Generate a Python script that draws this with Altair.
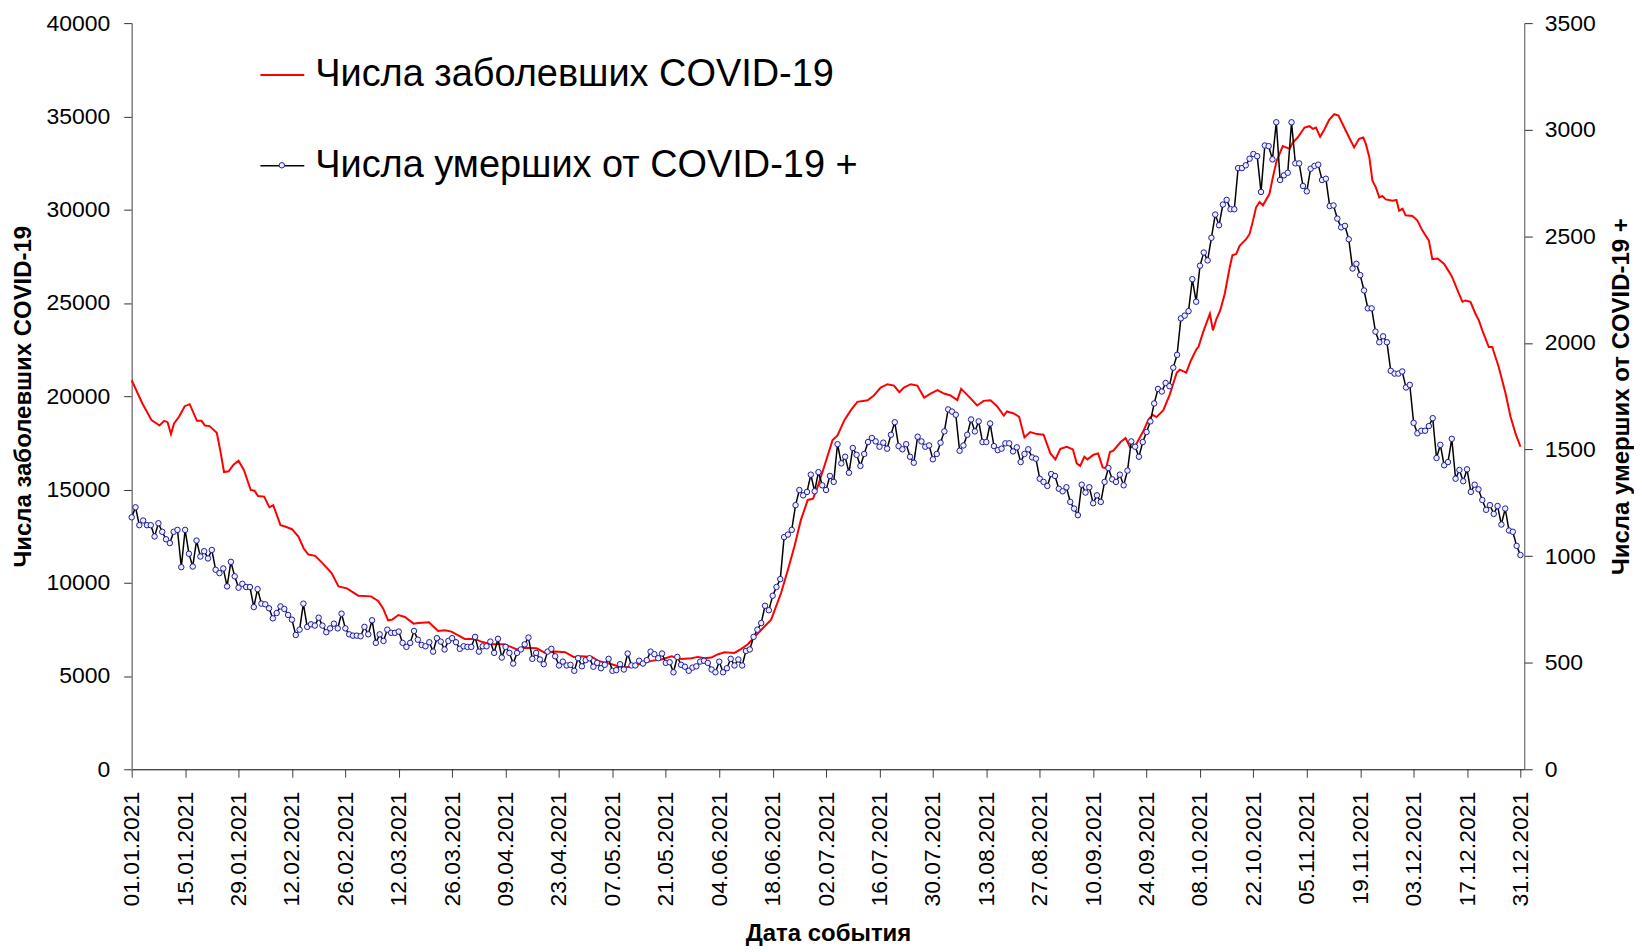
import altair as alt
import pandas as pd

CASES_LABEL = "Числа заболевших COVID-19"
DEATHS_LABEL = "Числа умерших от COVID-19 +"
MARKER_KEY = "marker"
X_TITLE = "Дата события"
Y_LEFT_TITLE = "Числа заболевших COVID-19"
Y_RIGHT_TITLE = "Числа умерших от  COVID-19 +"

START = "2021-01-01"

# daily deaths, 01.01.2021 .. 31.12.2021 (right axis)
deaths = [
    1182, 1229, 1145, 1167, 1145, 1145, 1092, 1154, 1114, 1079,
    1061, 1114, 1123, 948, 1123, 1011, 951, 1073, 998, 1023,
    989, 1029, 936, 920, 942, 858, 973, 905, 852, 870,
    855, 855, 761, 845, 777, 774, 755, 708, 733, 764,
    752, 724, 702, 630, 655, 777, 668, 680, 674, 711,
    674, 643, 661, 683, 661, 730, 661, 633, 627, 627,
    624, 668, 633, 699, 593, 633, 602, 655, 640, 640,
    646, 593, 574, 593, 649, 608, 583, 577, 596, 552,
    615, 599, 562, 602, 615, 596, 565, 577, 574, 574,
    621, 552, 577, 577, 599, 546, 612, 524, 574, 546,
    496, 546, 562, 586, 618, 518, 546,
    515, 493, 552, 565, 530, 487, 505, 487, 490, 462,
    521, 483, 512, 521, 481, 499, 474, 490, 518, 462,
    465, 493, 468, 543, 487, 487, 509, 496, 512, 552,
    540, 521, 543, 499, 502, 455, 527, 490, 481, 462,
    477, 483, 505, 509, 499, 468, 455, 505, 455, 474,
    518, 487, 515, 487, 555, 562, 621, 655, 686, 767,
    746, 814, 855, 892, 1089, 1101, 1123, 1239, 1310, 1285,
    1301, 1382, 1304, 1394, 1332, 1310, 1376, 1348, 1525, 1435,
    1466, 1391, 1507, 1475, 1423, 1479, 1535, 1554, 1538, 1513,
    1532, 1504, 1569, 1628, 1516, 1501, 1525, 1466, 1438, 1560,
    1538, 1513, 1519, 1454, 1479, 1532, 1585, 1688, 1678, 1663,
    1494, 1519, 1569, 1641, 1585, 1632, 1535, 1535, 1622, 1516,
    1497, 1504, 1529, 1529, 1491, 1510, 1441, 1479, 1501, 1463,
    1457, 1363, 1348, 1329, 1385, 1376, 1316, 1304, 1323, 1254,
    1223, 1192, 1335, 1298, 1323, 1248, 1285, 1254, 1348, 1413,
    1360, 1348, 1382, 1332, 1401, 1538, 1513, 1466, 1535, 1582,
    1632, 1716, 1784, 1772, 1812, 1797, 1884, 1944, 2115, 2128,
    2149, 2299, 2193,
    2362, 2424, 2387, 2493, 2602, 2552, 2649, 2671, 2627, 2627,
    2820, 2820, 2833, 2864, 2886, 2876, 2708, 2926, 2923, 2861,
    3035, 2764, 2786, 2798, 3035, 2842, 2842, 2736, 2711, 2817,
    2830, 2836, 2764, 2770, 2642, 2645, 2583, 2542, 2549, 2486,
    2349, 2371, 2318, 2246, 2162, 2162, 2053, 2003, 2031, 2003,
    1869, 1856, 1856, 1866, 1791, 1803, 1625, 1576, 1588, 1588,
    1610, 1647, 1460, 1522, 1426, 1441, 1550, 1363, 1404, 1351,
    1407, 1301, 1335, 1313, 1263, 1217, 1239, 1198, 1235, 1148,
    1223, 1120, 1114, 1048, 1005,
]

# cases (left axis): day offset from 01.01.2021 and value
case_day = [
    0, 2.8, 5.2, 7.3, 8.5, 9.4, 10.3, 11.1, 12.4, 13.9,
    15.2, 17.1, 18.3, 19.2, 20.4, 22.3, 23.2, 24.2, 25.4, 26.7,
    28.0, 29.4, 31.2, 32.2, 33.1, 34.7, 36.1, 37.1, 39.0, 40.2,
    42.0, 43.7, 45.1, 46.3, 48.1, 50.0, 52.4, 54.2, 56.4, 59.4,
    62.7, 64.6, 65.9, 67.2, 68.3, 69.9, 71.6, 73.9, 75.1, 77.9,
    80.3, 82.1, 83.8, 87.3, 89.9, 91.6, 94.3, 97.7, 101.0, 103.0,
    106.1, 108.4, 111.0, 113.6, 115.8, 117.9, 120.6, 122.3, 125.8, 127.5,
    129.3, 131.0, 134.5, 136.2, 138.9, 141.5, 144.1, 146.7, 148.4, 150.2,
    151.9, 153.7, 155.4, 158.0, 159.8, 161.5, 163.4, 165.9, 167.6, 170.2,
    172.0, 173.7, 175.4, 177.2, 178.6, 179.8, 181.5, 183.7, 185.0, 186.8,
    188.5, 190.2, 192.9, 194.6, 196.3, 198.1, 199.8, 201.2, 202.4, 204.2,
    205.9, 207.7, 209.4, 211.2, 212.9, 214.6, 216.4, 217.4, 219.0, 221.6,
    223.3, 225.1, 226.8, 228.6, 229.4, 231.2, 232.6, 234.0, 235.5, 237.3,
    239.0, 240.8, 242.1, 243.4, 245.1, 246.7, 247.7, 248.6, 249.7, 250.5,
    252.1, 253.3, 254.5, 255.4, 256.4, 257.3, 259.2, 260.5, 261.7, 263.1,
    265.2, 266.5, 267.6, 268.6, 270.4, 272.1, 273.9, 274.7, 276.4, 277.6,
    279.1, 279.6, 280.8, 282.6, 283.4, 284.3, 285.3, 286.5, 287.8, 288.5,
    289.5, 290.4, 292.1, 293.0, 293.9, 294.7, 295.6, 296.5, 298.2, 299.1,
    300.1, 301.7, 303.5, 304.3, 305.6, 307.4, 308.7, 309.6, 310.4, 311.5,
    312.6, 313.9, 315.2, 316.3, 317.4, 319.1, 320.4, 321.7, 322.8, 323.5,
    324.4, 325.2, 326.1, 327.0, 327.8, 328.7, 330.5, 331.5, 332.2, 333.1,
    333.9, 335.7, 337.0, 338.3, 340.0, 340.9, 342.3, 344.0, 345.3, 346.1,
    347.9, 348.8, 349.6, 350.9, 352.2, 353.1, 354.0, 355.7, 356.6, 358.3,
    360.1, 361.4, 362.7, 364.0,
]
case_value = [
    20856, 19608, 18717, 18431, 18681, 18610, 17968, 18538, 18895, 19465,
    19572, 18681, 18681, 18431, 18396, 18039, 17112, 15936, 15971, 16328,
    16542, 16043, 14973, 14937, 14652, 14617, 14046, 14153, 13084, 13013,
    12870, 12478, 11836, 11515, 11444, 11052, 10517, 9804, 9697, 9305,
    9270, 9020, 8627, 7986, 8021, 8271, 8164, 7807, 7843, 7879,
    7415, 7450, 7379, 6988, 6988, 6845, 6702, 6702, 6420, 6520,
    6488, 6239, 6310, 6275, 6025, 6061, 6025, 5811, 5633, 5526,
    5455, 5526, 5704, 5811, 5882, 6061, 5918, 5954, 6025, 5954,
    5989, 6168, 6275, 6239, 6453, 6702, 7130, 7665, 8021, 9447,
    10695, 11943, 13369, 14439, 14510, 15152, 16221, 17647, 17897, 18717,
    19251, 19697, 19786, 20053, 20463, 20642, 20570, 20214, 20463, 20642,
    20570, 19929, 20143, 20321, 20143, 20036, 19786, 20392, 20071, 19501,
    19750, 19786, 19465, 18966, 19180, 19073, 18895, 17790, 18075, 17968,
    17932, 16934, 16613, 17183, 17290, 17148, 16399, 16257, 16756, 16613,
    16863, 16934, 16185, 16150, 17005, 17077, 17540, 17754, 17255, 17362,
    18146, 18750, 19000, 18880, 19251, 20100, 21260, 21420, 21265, 21900,
    22531, 22638, 23422, 24421, 23529, 24135, 24599, 25490, 26916, 27558,
    27629, 28057, 28414, 28699, 29412, 30125, 30410, 30232, 30838, 31729,
    32620, 33405, 33262, 33583, 33868, 34403, 34474, 34332, 34403, 33904,
    34296, 34831, 35116, 35045, 34581, 33868, 33333, 33797, 33868, 33512,
    32798, 31551, 31194, 30660, 30731, 30552, 30481, 30517, 29947, 30053,
    29697, 29661, 29412, 28877, 28342, 27344, 27380, 27094, 26666, 26381,
    25490, 25062, 25134, 25062, 24421, 24064, 23529, 22638, 22638, 21569,
    20143, 18895, 18004, 17290,
]

left_ticks = [0, 5000, 10000, 15000, 20000, 25000, 30000, 35000, 40000]
right_ticks = [0, 500, 1000, 1500, 2000, 2500, 3000, 3500]

MARKER_FILL = "#eeeeff"
MARKER_STROKE = "#1c1ca0"

base = pd.Timestamp(START)
df_deaths = pd.DataFrame({
    "date": pd.date_range(base, periods=len(deaths), freq="D"),
    "value": deaths,
    "series_line": DEATHS_LABEL,
    "series_pt": MARKER_KEY,
})
df_cases = pd.DataFrame({
    "date": base + pd.to_timedelta(case_day, unit="D"),
    "value": case_value,
    "series": CASES_LABEL,
})

tick_dates = pd.date_range(START, "2021-12-31", freq="14D")
FONT = "Liberation Sans"

x_enc = alt.X(
    "date:T",
    scale=alt.Scale(
        domain=[alt.DateTime(year=2021, month=1, date=1), alt.DateTime(year=2022, month=1, date=1)],
        nice=False,
    ),
    axis=alt.Axis(
        values=[alt.DateTime(year=d.year, month=d.month, date=d.day) for d in tick_dates],
        format="%d.%m.%Y",
        labelAngle=270,
        labelAlign="right",
        labelBaseline="middle",
        labelFontSize=23,
        labelPadding=14,
        labelOverlap=False,
        labelFlush=False,
        tickSize=8,
        tickColor="#404040",
        domainColor="#000000",
        grid=False,
        title=X_TITLE,
        titleFontSize=24,
        titleFontWeight="bold",
        titlePadding=16,
    ),
)

y_left = alt.Y(
    "value:Q",
    scale=alt.Scale(domain=[0, 40000], nice=False, zero=True),
    axis=alt.Axis(
        orient="left",
        values=left_ticks,
        format="d",
        labelFontSize=23,
        labelPadding=14,
        tickSize=8,
        tickColor="#303030",
        domainColor="#808080",
        domainWidth=1.5,
        grid=False,
        title=Y_LEFT_TITLE,
        titleFontSize=24,
        titleFontWeight="bold",
        titlePadding=10,
    ),
)

y_right = alt.Y(
    "value:Q",
    scale=alt.Scale(domain=[0, 3500], nice=False, zero=True),
    axis=alt.Axis(
        orient="right",
        values=right_ticks,
        format="d",
        labelFontSize=23,
        labelPadding=12,
        tickSize=8,
        tickColor="#303030",
        domainColor="#505050",
        grid=False,
        title=Y_RIGHT_TITLE,
        titleAngle=270,
        titleBaseline="top",
        titleFontSize=24,
        titleFontWeight="bold",
        titlePadding=14,
    ),
)

cases_line = alt.Chart(df_cases).mark_line(strokeWidth=2).encode(
    x=x_enc,
    y=y_left,
    color=alt.Color(
        "series:N",
        scale=alt.Scale(domain=[CASES_LABEL], range=["#ff0000"]),
        legend=alt.Legend(
            orient="none", legendX=128, legendY=29, title=None, padding=0,
            symbolType="stroke", symbolSize=1936, symbolStrokeWidth=2,
            labelFontSize=38, labelFont=FONT, labelColor="black", labelOffset=10,
            labelLimit=0,
        ),
    ),
)

deaths_line = alt.Chart(df_deaths).mark_line(color="black", strokeWidth=1.5).encode(
    x=x_enc,
    y=y_right,
    strokeDash=alt.StrokeDash(
        "series_line:N",
        scale=alt.Scale(domain=[DEATHS_LABEL], range=[[1, 0]]),
        legend=alt.Legend(
            orient="none", legendX=128, legendY=120, title=None, padding=0,
            symbolType="stroke", symbolSize=1936, symbolStrokeWidth=1.5,
            symbolStrokeColor="black",
            labelFontSize=38, labelFont=FONT, labelColor="black", labelOffset=10,
            labelLimit=0,
        ),
    ),
)

deaths_pts = alt.Chart(df_deaths).mark_point(
    shape="circle", filled=False, fill=MARKER_FILL, strokeWidth=1, size=30, opacity=1
).encode(
    x=x_enc,
    y=y_right,
    color=alt.Color(
        "series_pt:N",
        scale=alt.Scale(domain=[MARKER_KEY], range=[MARKER_STROKE]),
        legend=alt.Legend(
            orient="none", legendX=147, legendY=139, title=None, padding=0,
            symbolType="circle", symbolSize=30, symbolFillColor=MARKER_FILL,
            symbolStrokeWidth=1, symbolOpacity=1, labelExpr="''", labelFontSize=1,
        ),
    ),
)

right = alt.layer(deaths_line, deaths_pts)

chart = alt.layer(cases_line, right).resolve_scale(
    y="independent", color="independent", strokeDash="independent"
).properties(
    width=1396,
    height=748,
    autosize=alt.AutoSizeParams(type="none"),
    padding={"left": 124, "top": 14, "right": 110, "bottom": 178},
).configure(
    font=FONT,
).configure_view(
    stroke=None,
).configure_axis(
    labelFont=FONT,
    titleFont=FONT,
    labelColor="black",
    titleColor="black",
)

chart.save("out.html", embed_options={"renderer": "svg", "actions": False})
